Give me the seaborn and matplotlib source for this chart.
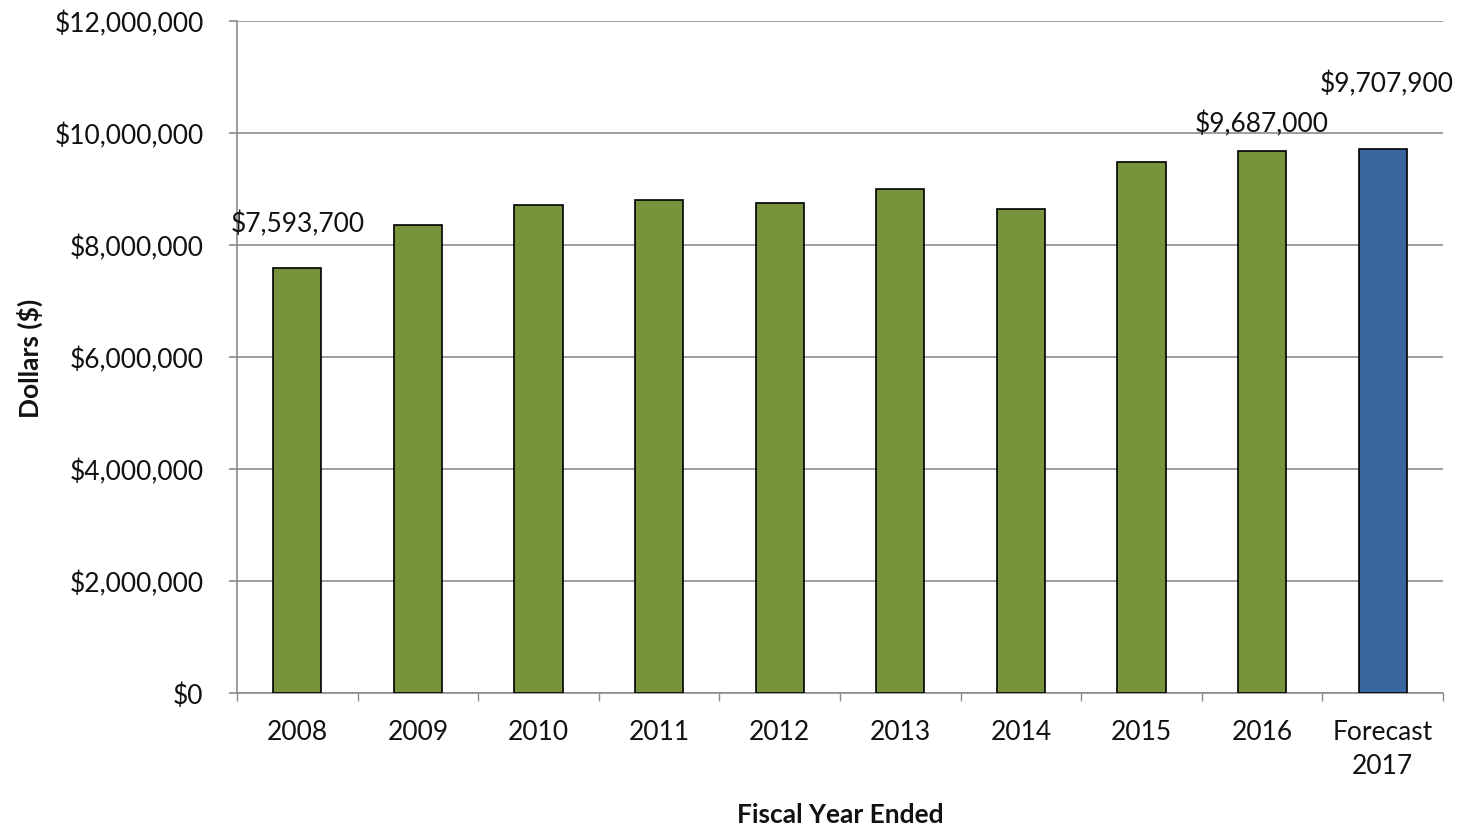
import matplotlib
matplotlib.use("Agg")
import matplotlib.pyplot as plt
import seaborn as sns
import pandas as pd
from matplotlib.ticker import FuncFormatter, FixedLocator

categories = ["2008", "2009", "2010", "2011", "2012", "2013", "2014", "2015", "2016", "Forecast\n2017"]
values = [7593700, 8357000, 8714000, 8810000, 8750000, 9000000, 8640000, 9490000, 9687000, 9707900]
kinds = ["Actual"] * 9 + ["Forecast"]
labels = {0: "$7,593,700", 8: "$9,687,000", 9: "$9,707,900"}

sns.set_theme(style="white")
plt.rcParams['font.family'] = ['Lato', 'DejaVu Sans']

df = pd.DataFrame({"cat": categories, "val": values, "kind": kinds})

fig = plt.figure(figsize=(14.62, 8.29), dpi=100)
ax = fig.add_axes([237/1462, 1 - 694/829, (1443-237)/1462, (694-22)/829])

sns.barplot(data=df, x="cat", y="val", hue="kind",
            palette={"Actual": "#77933C", "Forecast": "#3B67A1"},
            saturation=1, width=0.4, dodge=False, edgecolor="black", linewidth=1.2,
            legend=False, ax=ax, zorder=3)

ax.set_ylim(0, 12000000)
ax.set_xlim(-0.5, 9.5)
ax.set_yticks(range(0, 12000001, 2000000))
ax.yaxis.set_major_formatter(FuncFormatter(lambda v, p: f"${v:,.0f}"))
ax.grid(axis="y", color="#8c8c8c", linewidth=1.2, zorder=0)
ax.set_axisbelow(True)

for s in ["top", "right"]:
    ax.spines[s].set_visible(False)
for s in ["left", "bottom"]:
    ax.spines[s].set_color("#8c8c8c")
    ax.spines[s].set_linewidth(1.2)

ax.tick_params(axis="y", which="major", left=True, length=6, color="#8c8c8c", labelsize=19, pad=18)
ax.tick_params(axis="x", which="major", bottom=False, labelsize=19, pad=13)
ax.xaxis.set_minor_locator(FixedLocator([i - 0.5 for i in range(11)]))
ax.tick_params(axis="x", which="minor", bottom=True, length=6, color="#8c8c8c")
for t in ax.get_xticklabels() + ax.get_yticklabels():
    t.set_color("#111111")
for t in ax.get_xticklabels():
    t.set_linespacing(1.45)
    t.set_verticalalignment("top")

ax.set_xlabel("")
ax.set_ylabel("")
fig.text(840/1462, 1 - 815/829, "Fiscal Year Ended", ha="center", va="center",
         fontsize=19, fontweight="bold", color="#111111")
fig.text(30/1462, 1 - 358/829, "Dollars ($)", ha="center", va="center", rotation=90,
         fontsize=19, fontweight="bold", color="#111111")

offsets = {0: 800000, 8: 480000, 9: 1180000}
for i, txt in labels.items():
    ax.text(i + (0.03 if i == 9 else 0), values[i] + offsets[i], txt,
            ha="center", va="center", fontsize=19, color="#111111")

fig.savefig("out.png", dpi=100)
